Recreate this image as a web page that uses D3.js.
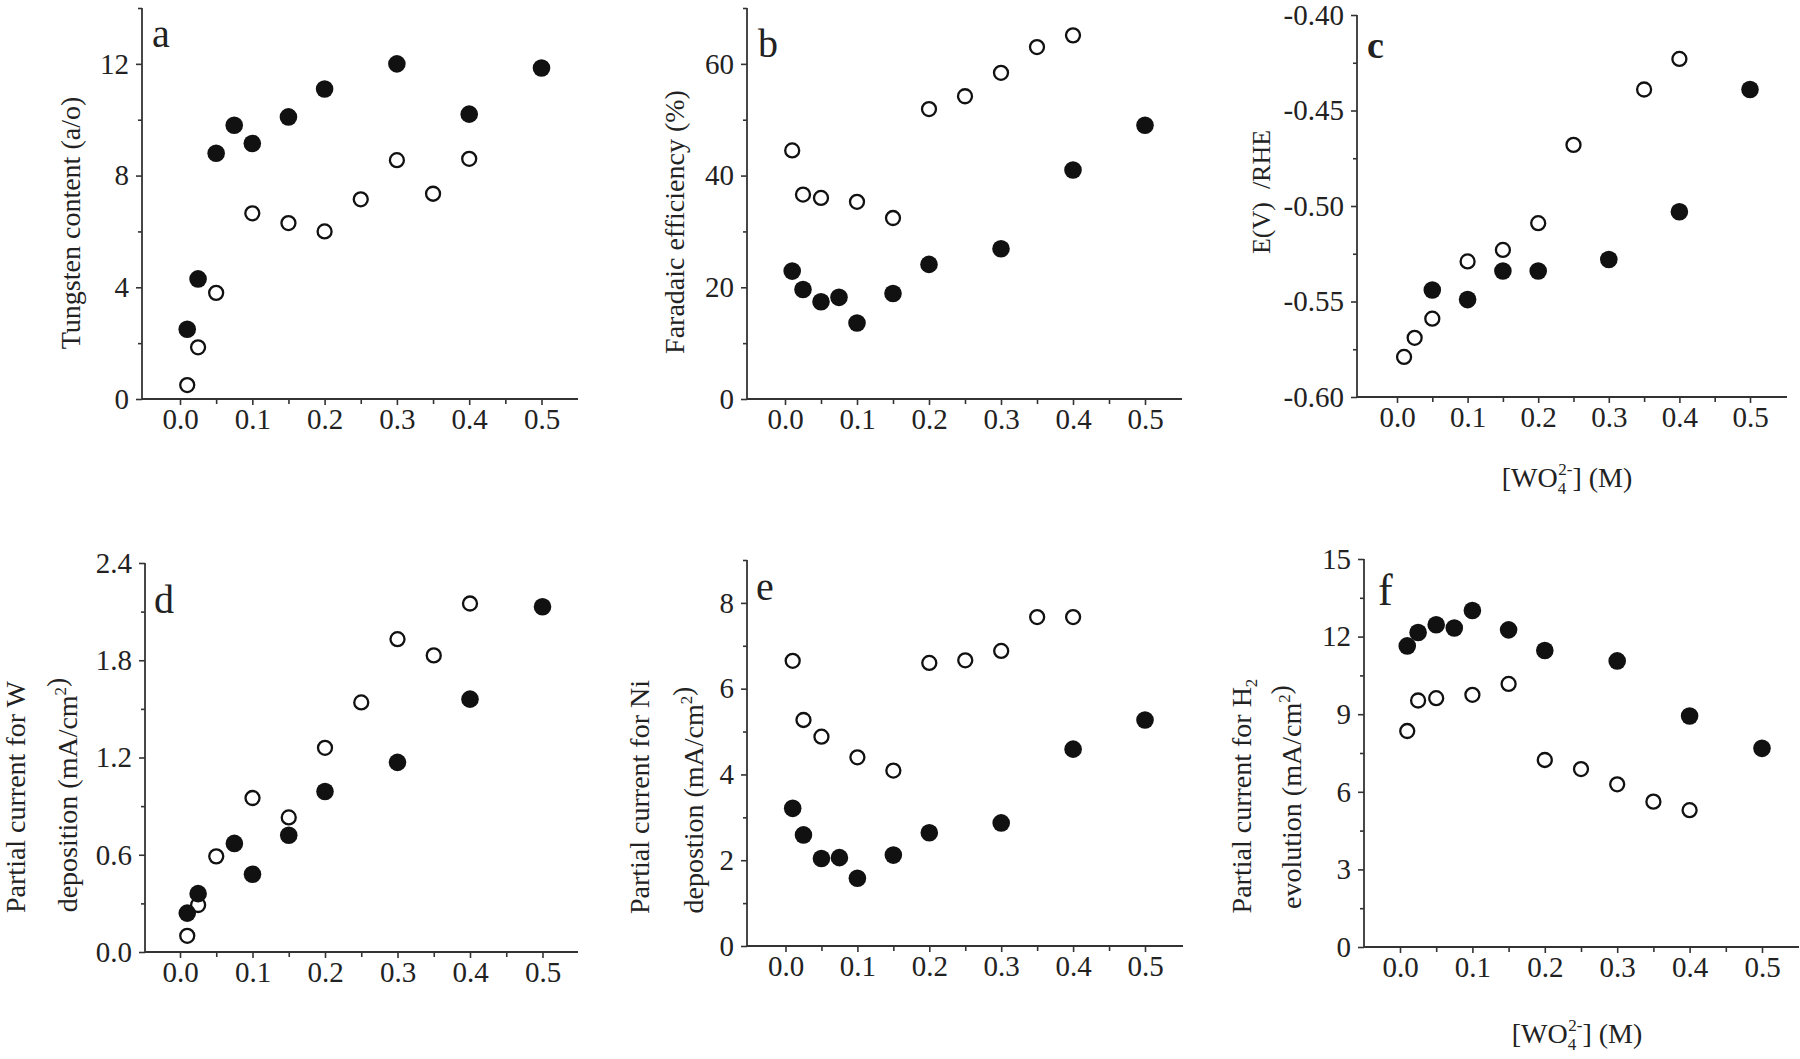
<!DOCTYPE html>
<html>
<head>
<meta charset="utf-8">
<script src="https://cdn.jsdelivr.net/npm/d3@7"></script>
<style>
  body { margin: 0; background: #fff; }
  svg { display: block; }
  text { font-family: "Liberation Serif", "Times New Roman", serif; fill: #222; }
</style>
</head>
<body>
<svg id="fig" width="1800" height="1059"></svg>
<script>
// tungstate concentrations (M)
const concFilled = [0.01, 0.025, 0.05, 0.075, 0.1, 0.15, 0.2, 0.3, 0.4, 0.5];
const concOpen = [0.01, 0.025, 0.05, 0.1, 0.15, 0.2, 0.25, 0.3, 0.35, 0.4];
const concFilledC = [0.05, 0.1, 0.15, 0.2, 0.3, 0.4, 0.5];
const concOpenC = [0.01, 0.025, 0.05, 0.1, 0.15, 0.2, 0.25, 0.35, 0.4];
const concFilledD = [0.01, 0.025, 0.075, 0.1, 0.15, 0.2, 0.3, 0.4, 0.5];

const xTicks = [0, 0.1, 0.2, 0.3, 0.4, 0.5];
const xMinor = [0.05, 0.15, 0.25, 0.35, 0.45];

// a: tungsten content (a/o)
const tungstenFilled = [2.5, 4.3, 8.8, 9.8, 9.15, 10.1, 11.1, 12.0, 10.2, 11.85];
const tungstenOpen = [0.5, 1.85, 3.8, 6.65, 6.3, 6.0, 7.15, 8.55, 7.35, 8.6];
// b: faradaic efficiency (%)
const faradaicFilled = [22.9, 19.6, 17.4, 18.2, 13.6, 18.9, 24.1, 26.9, 41.0, 49.0];
const faradaicOpen = [44.5, 36.6, 36.0, 35.3, 32.4, 51.9, 54.2, 58.4, 63.0, 65.1];
// c: potential E(V) vs RHE
const potentialFilled = [-0.544, -0.549, -0.534, -0.534, -0.528, -0.503, -0.439];
const potentialOpen = [-0.579, -0.569, -0.559, -0.529, -0.523, -0.509, -0.468, -0.439, -0.423];
// d: partial current W deposition
const wFilled = [0.24, 0.36, 0.67, 0.48, 0.72, 0.99, 1.17, 1.56, 2.13];
const wOpen = [0.10, 0.29, 0.59, 0.95, 0.83, 1.26, 1.54, 1.93, 1.83, 2.15];
// e: partial current Ni deposition
const niFilled = [3.21, 2.59, 2.04, 2.06, 1.58, 2.12, 2.64, 2.87, 4.59, 5.27];
const niOpen = [6.65, 5.27, 4.88, 4.40, 4.09, 6.60, 6.66, 6.88, 7.67, 7.67];
// f: partial current H2 evolution
const h2Filled = [11.64, 12.16, 12.46, 12.33, 13.01, 12.26, 11.46, 11.06, 8.93, 7.68];
const h2Open = [8.35, 9.53, 9.62, 9.75, 10.17, 7.23, 6.88, 6.29, 5.62, 5.29];

const yTicksA = [0, 4, 8, 12], yMinorA = [2, 6, 10, 14];
const yTicksB = [0, 20, 40, 60], yMinorB = [10, 30, 50, 70];
const yTicksC = [-0.6, -0.55, -0.5, -0.45, -0.4], yMinorC = [-0.575, -0.525, -0.475, -0.425];
const yTicksD = [0, 0.6, 1.2, 1.8, 2.4], yMinorD = [0.3, 0.9, 1.5, 2.1];
const yTicksE = [0, 2, 4, 6, 8], yMinorE = [1, 3, 5, 7, 9];
const yTicksF = [0, 3, 6, 9, 12, 15], yMinorF = [1.5, 4.5, 7.5, 10.5, 13.5];

const svg = d3.select("#fig");

const panels = [
  { letter: "a", box: { l: 142, r: 578, x0: 180, x5: 541.5, t: 8, b: 399 }, yDomain: [0, 14],
    filled: [concFilled, tungstenFilled], open: [concOpen, tungstenOpen],
    yTicks: yTicksA, yMinor: yMinorA, fmt: d3.format("d"),
    letterPos: [152, 47, 40, "normal"] },
  { letter: "b", box: { l: 747, r: 1182, x0: 785, x5: 1145, t: 8, b: 399 }, yDomain: [0, 70],
    filled: [concFilled, faradaicFilled], open: [concOpen, faradaicOpen],
    yTicks: yTicksB, yMinor: yMinorB, fmt: d3.format("d"),
    letterPos: [758, 57, 40, "normal"] },
  { letter: "c", box: { l: 1357, r: 1787, x0: 1397, x5: 1750, t: 15, b: 397 }, yDomain: [-0.6, -0.4],
    filled: [concFilledC, potentialFilled], open: [concOpenC, potentialOpen],
    yTicks: yTicksC, yMinor: yMinorC, fmt: d => d.toFixed(2),
    letterPos: [1367, 58, 38, "bold"] },
  { letter: "d", box: { l: 145, r: 578, x0: 180, x5: 542.5, t: 563, b: 952 }, yDomain: [0, 2.4],
    filled: [concFilledD, wFilled], open: [concOpen, wOpen],
    yTicks: yTicksD, yMinor: yMinorD, fmt: d3.format(".1f"),
    letterPos: [154, 613, 40, "normal"] },
  { letter: "e", box: { l: 747, r: 1183, x0: 785.5, x5: 1145, t: 560, b: 946 }, yDomain: [0, 9],
    filled: [concFilled, niFilled], open: [concOpen, niOpen],
    yTicks: yTicksE, yMinor: yMinorE, fmt: d3.format("d"),
    letterPos: [756, 600, 40, "normal"] },
  { letter: "f", box: { l: 1364, r: 1799, x0: 1400, x5: 1762, t: 559, b: 947 }, yDomain: [0, 15],
    filled: [concFilled, h2Filled], open: [concOpen, h2Open],
    yTicks: yTicksF, yMinor: yMinorF, fmt: d3.format("d"),
    letterPos: [1378, 605, 44, "normal"] }
];

function styleAxis(g) {
  g.selectAll("path").remove();
  g.selectAll("line").attr("stroke", "#333").attr("stroke-width", 1.6);
  g.selectAll("text").attr("font-size", 29).attr("font-family", null).attr("fill", "#222");
}

panels.forEach(p => {
  const b = p.box;
  const x = d3.scaleLinear().domain([0, 0.5]).range([b.x0, b.x5]);
  const y = d3.scaleLinear().domain(p.yDomain).range([b.b, b.t]);
  const g = svg.append("g");

  g.append("g").attr("transform", `translate(0,${b.b})`)
    .call(d3.axisBottom(x).tickValues(xTicks).tickFormat(d3.format(".1f")).tickSize(6).tickPadding(3))
    .call(styleAxis);
  g.append("g").attr("transform", `translate(0,${b.b})`)
    .call(d3.axisBottom(x).tickValues(xMinor).tickFormat("").tickSize(5))
    .call(styleAxis);
  g.append("g").attr("transform", `translate(${b.l},0)`)
    .call(d3.axisLeft(y).tickValues(p.yTicks).tickFormat(p.fmt).tickSize(6).tickPadding(7))
    .call(styleAxis);
  g.append("g").attr("transform", `translate(${b.l},0)`)
    .call(d3.axisLeft(y).tickValues(p.yMinor).tickFormat("").tickSize(4))
    .call(styleAxis);

  // axis lines
  g.append("line").attr("x1", b.l).attr("x2", b.r).attr("y1", b.b).attr("y2", b.b)
    .attr("stroke", "#333").attr("stroke-width", 1.8);
  g.append("line").attr("x1", b.l).attr("x2", b.l).attr("y1", b.t).attr("y2", b.b)
    .attr("stroke", "#333").attr("stroke-width", 1.8);

  const openPts = p.open[0].map((c, i) => ({ c, v: p.open[1][i] }));
  const filledPts = p.filled[0].map((c, i) => ({ c, v: p.filled[1][i] }));

  g.selectAll("circle.open").data(openPts).enter().append("circle")
    .attr("class", "open")
    .attr("cx", d => x(d.c)).attr("cy", d => y(d.v)).attr("r", 7)
    .attr("fill", "#fff").attr("stroke", "#111").attr("stroke-width", 2.3);
  g.selectAll("circle.filled").data(filledPts).enter().append("circle")
    .attr("class", "filled")
    .attr("cx", d => x(d.c)).attr("cy", d => y(d.v)).attr("r", 8.8)
    .attr("fill", "#111");

  const [lx, ly, ls, lw] = p.letterPos;
  g.append("text").attr("x", lx).attr("y", ly).attr("font-size", ls)
    .attr("font-weight", lw).attr("fill", "#111").text(p.letter);
});

// y axis titles
function vtitle(x, y, size, build) {
  const t = svg.append("text").attr("transform", `translate(${x},${y}) rotate(-90)`)
    .attr("text-anchor", "middle").attr("font-size", size);
  build(t);
  return t;
}
function sup(t, s, size) {
  t.append("tspan").attr("dy", -size * 0.4).attr("font-size", size * 0.6).text(s);
  t.append("tspan").attr("dy", size * 0.4).text("");
}

vtitle(80, 223, 28, t => t.text("Tungsten content (a/o)"));
vtitle(684, 222, 28, t => t.text("Faradaic efficiency (%)"));
vtitle(1270, 192, 26, t => t.attr("xml:space", "preserve").text("E(V)  /RHE"));

vtitle(25, 797, 28, t => t.text("Partial current for W"));
vtitle(77, 795, 28, t => { t.append("tspan").text("deposition (mA/cm"); sup(t, "2", 28); t.append("tspan").text(")"); });
vtitle(649, 797, 28, t => t.text("Partial current for Ni"));
vtitle(703, 800, 28, t => { t.append("tspan").text("depostion (mA/cm"); sup(t, "2", 28); t.append("tspan").text(")"); });
vtitle(1251, 796, 28, t => {
  t.append("tspan").text("Partial current for H");
  t.append("tspan").attr("dy", 6).attr("font-size", 17).text("2");
  t.append("tspan").attr("dy", -6).text("");
});
vtitle(1301, 797, 28, t => { t.append("tspan").text("evolution (mA/cm"); sup(t, "2", 28); t.append("tspan").text(")"); });

// x axis titles
function xtitle(x, y) {
  const t = svg.append("text").attr("x", x).attr("y", y).attr("text-anchor", "middle").attr("font-size", 28);
  t.append("tspan").text("[WO");
  t.append("tspan").attr("dy", 7).attr("font-size", 17).text("4");
  t.append("tspan").attr("dy", -19).attr("dx", -8).attr("font-size", 17).text("2-");
  t.append("tspan").attr("dy", 12).text("] (M)");
}
xtitle(1567, 487);
xtitle(1577, 1043);
</script>
</body>
</html>
